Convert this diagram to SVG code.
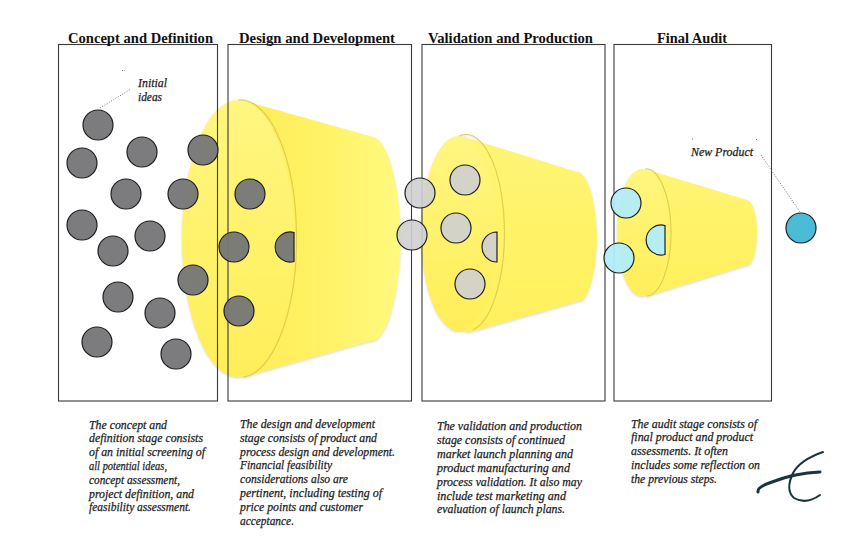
<svg xmlns="http://www.w3.org/2000/svg" width="861" height="539" viewBox="0 0 861 539">
<style>
.box{fill:none;stroke:#3a3a3a;stroke-width:1.1}
.head{font:bold 14.600px "Liberation Serif",serif;fill:#111}
.note{font:italic 12.400px "Liberation Serif",serif;fill:#1c1c1c;stroke:#1c1c1c;stroke-width:.25}
.c{stroke:#1e1e1e;stroke-width:1.2}
.g{fill:#757578;fill-opacity:.95}
.l{fill:#cfcfd2;fill-opacity:.9}
.b{fill:#b2ecf8;fill-opacity:.95}
.rim{fill:none;stroke:#d0c04a;stroke-width:1.2;stroke-opacity:.7}
.dot{fill:none;stroke:#666;stroke-width:.9;stroke-dasharray:1 1.6}
</style>
<defs>
<linearGradient id="h1" x1="0" x2="1" y1="0" y2="0"><stop offset="0" stop-color="#ffea55"/><stop offset=".5" stop-color="#fff05f"/><stop offset="1" stop-color="#fff97e"/></linearGradient>
<linearGradient id="f1" x1="0" x2="0" y1="0" y2="1"><stop offset="0" stop-color="#fff680"/><stop offset="1" stop-color="#ffee58"/></linearGradient>
<linearGradient id="v2" x1="0" x2="0" y1="0" y2="1"><stop offset="0" stop-color="#fff574"/><stop offset="1" stop-color="#fff05c"/></linearGradient>
<filter id="sh" x="-5%" y="-5%" width="110%" height="112%"><feDropShadow dx="0" dy="1.200" stdDeviation="1.200" flood-color="#8a7a30" flood-opacity=".3"/></filter>
</defs>
<g id="funnel-1" filter="url(#sh)">
<path d="M245 101L373 137A30 112 0 0 1 401 238A30 112 0 0 1 370 341L243 377A56 138.500 0 0 1 245 101Z" fill="url(#h1)"/>
<ellipse cx="238" cy="238.500" rx="56" ry="138.500" fill="url(#f1)"/>
<path class="rim" d="M238 100A56 138.500 0 0 1 243 377"/>
</g>
<g id="funnel-2" filter="url(#sh)">
<path d="M464 137L577 172A20 72 0 0 1 597 238A20 72 0 0 1 583 300L473 331A38 97 0 0 1 464 137Z" fill="url(#v2)"/>
<ellipse cx="459" cy="233.500" rx="38" ry="97.500" fill="url(#f1)"/>
<path class="rim" d="M459 136A38 97.500 0 0 1 473 330"/>
</g>
<g id="funnel-3" filter="url(#sh)">
<path d="M648 170L747 200A10 34 0 0 1 757 232A10 34 0 0 1 750 264L647 296A25 63.500 0 0 1 648 170Z" fill="url(#v2)"/>
<ellipse cx="642" cy="232.500" rx="25" ry="63.500" fill="url(#f1)"/>
<path class="rim" d="M645 169A25 63.500 0 0 1 647 296"/>
</g>
<g id="stage-concept">
<rect class="box" x="58.500" y="44.500" width="159" height="356.500"/>
<text class="head" x="68" y="42.500" textLength="145" lengthAdjust="spacingAndGlyphs">Concept and Definition</text>
<g class="note">
<text x="89" y="428.500" textLength="78" lengthAdjust="spacingAndGlyphs">The concept and</text>
<text x="89" y="442.300" textLength="114" lengthAdjust="spacingAndGlyphs">definition stage consists</text>
<text x="89" y="456.100" textLength="116" lengthAdjust="spacingAndGlyphs">of an initial screening of</text>
<text x="89" y="469.900" textLength="78" lengthAdjust="spacingAndGlyphs">all potential ideas,</text>
<text x="89" y="483.700" textLength="91" lengthAdjust="spacingAndGlyphs">concept assessment,</text>
<text x="89" y="497.500" textLength="105" lengthAdjust="spacingAndGlyphs">project definition, and</text>
<text x="89" y="511.300" textLength="102" lengthAdjust="spacingAndGlyphs">feasibility assessment.</text>
</g>
</g>
<g id="stage-design">
<rect class="box" x="228" y="44.500" width="183.500" height="356.500"/>
<text class="head" x="239" y="42.500" textLength="156" lengthAdjust="spacingAndGlyphs">Design and Development</text>
<g class="note">
<text x="240" y="428" textLength="135" lengthAdjust="spacingAndGlyphs">The design and development</text>
<text x="240" y="441.800" textLength="137" lengthAdjust="spacingAndGlyphs">stage consists of product and</text>
<text x="240" y="455.600" textLength="155" lengthAdjust="spacingAndGlyphs">process design and development.</text>
<text x="240" y="469.400" textLength="92" lengthAdjust="spacingAndGlyphs">Financial feasibility</text>
<text x="240" y="483.200" textLength="108" lengthAdjust="spacingAndGlyphs">considerations also are</text>
<text x="240" y="497" textLength="142" lengthAdjust="spacingAndGlyphs">pertinent, including testing of</text>
<text x="240" y="510.800" textLength="123" lengthAdjust="spacingAndGlyphs">price points and customer</text>
<text x="240" y="524.600" textLength="54" lengthAdjust="spacingAndGlyphs">acceptance.</text>
</g>
</g>
<g id="stage-validation">
<rect class="box" x="422" y="44.500" width="183" height="356.500"/>
<text class="head" x="428" y="42.500" textLength="165" lengthAdjust="spacingAndGlyphs">Validation and Production</text>
<g class="note">
<text x="437" y="430" textLength="145" lengthAdjust="spacingAndGlyphs">The validation and production</text>
<text x="437" y="443.900" textLength="128" lengthAdjust="spacingAndGlyphs">stage consists of continued</text>
<text x="437" y="457.800" textLength="136" lengthAdjust="spacingAndGlyphs">market launch planning and</text>
<text x="437" y="471.700" textLength="133" lengthAdjust="spacingAndGlyphs">product manufacturing and</text>
<text x="437" y="485.600" textLength="145" lengthAdjust="spacingAndGlyphs">process validation. It also may</text>
<text x="437" y="499.500" textLength="129" lengthAdjust="spacingAndGlyphs">include test marketing and</text>
<text x="437" y="513.400" textLength="128" lengthAdjust="spacingAndGlyphs">evaluation of launch plans.</text>
</g>
</g>
<g id="stage-audit">
<rect class="box" x="614" y="44.500" width="157.500" height="356.500"/>
<text class="head" x="657" y="42.500" textLength="70" lengthAdjust="spacingAndGlyphs">Final Audit</text>
<g class="note">
<text x="631" y="427.500" textLength="126" lengthAdjust="spacingAndGlyphs">The audit stage consists of</text>
<text x="631" y="441.300" textLength="122" lengthAdjust="spacingAndGlyphs">final product and product</text>
<text x="631" y="455.100" textLength="97" lengthAdjust="spacingAndGlyphs">assessments. It often</text>
<text x="631" y="468.900" textLength="129" lengthAdjust="spacingAndGlyphs">includes some reflection on</text>
<text x="631" y="482.700" textLength="86" lengthAdjust="spacingAndGlyphs">the previous steps.</text>
</g>
</g>
<g id="connectors">
<path class="dot" d="M100 108L131 89"/>
<path class="dot" d="M761 155L800 212"/>
<path class="dot" d="M122 70.500h3M692 139h2M756 139.500h1"/>
</g>
<g id="label-initial-ideas" class="note">
<text x="138" y="87" textLength="29" lengthAdjust="spacingAndGlyphs">Initial</text>
<text x="138" y="101" textLength="24" lengthAdjust="spacingAndGlyphs">ideas</text>
</g>
<g id="label-new-product" class="note">
<text x="691" y="156" textLength="62" lengthAdjust="spacingAndGlyphs">New Product</text>
</g>
<g id="ideas-gray">
<circle class="c g" cx="98" cy="125" r="15"/>
<circle class="c g" cx="82" cy="163" r="15"/>
<circle class="c g" cx="142" cy="152" r="15"/>
<circle class="c g" cx="203" cy="150" r="15"/>
<circle class="c g" cx="126" cy="194" r="15"/>
<circle class="c g" cx="183" cy="194" r="15"/>
<circle class="c g" cx="250" cy="194" r="15"/>
<circle class="c g" cx="82" cy="225" r="15"/>
<circle class="c g" cx="113" cy="251" r="15"/>
<circle class="c g" cx="150" cy="236" r="15"/>
<circle class="c g" cx="193" cy="280" r="15"/>
<circle class="c g" cx="118" cy="297" r="15"/>
<circle class="c g" cx="160" cy="313" r="15"/>
<circle class="c g" cx="97" cy="342" r="15"/>
<circle class="c g" cx="176" cy="354" r="15"/>
<circle class="c g" cx="234" cy="247" r="15"/>
<circle class="c g" cx="239" cy="311" r="15"/>
<path class="c g" d="M294 232.500A15 15 0 1 0 294 261.500Z"/>
</g>
<g id="ideas-light">
<circle class="c l" cx="420" cy="193" r="15"/>
<circle class="c l" cx="412" cy="235" r="15"/>
<circle class="c l" cx="465" cy="180" r="15"/>
<circle class="c l" cx="456" cy="228" r="15"/>
<circle class="c l" cx="470" cy="284" r="15"/>
<path class="c l" d="M497 232A15 15 0 1 0 497 262Z"/>
</g>
<g id="ideas-blue">
<circle class="c b" cx="626" cy="203" r="15"/>
<circle class="c b" cx="619" cy="258" r="15"/>
<path class="c b" d="M665 225.500A15 15 0 1 0 665 254.500Z"/>
</g>
<g id="new-product">
<circle class="c" cx="801" cy="228" r="15" fill="#4bbcd6"/>
</g>
<g id="signature" fill="none" stroke="#17353b" stroke-linecap="round">
<path stroke-width="3" d="M758 492Q757 487 772 482Q795 473 820 472"/>
<path stroke-width="2" d="M823 452Q800 460 793 473Q785 490 794 498Q806 505 820 495"/>
</g>
</svg>
